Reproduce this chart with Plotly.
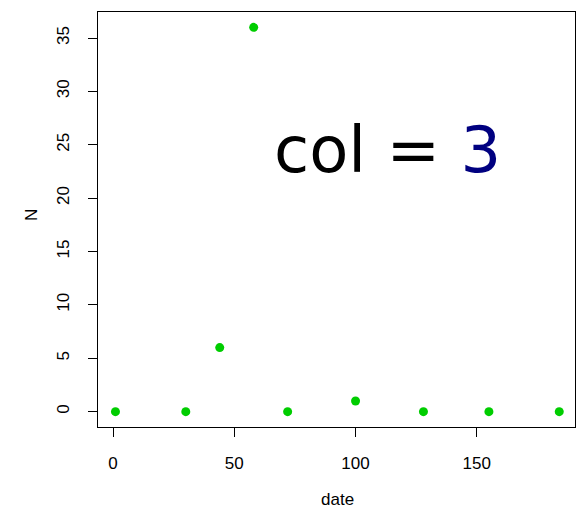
import plotly.graph_objects as go

dates = [1, 30, 44, 58, 72, 100, 128, 155, 184]
counts = [0, 0, 6, 36, 0, 1, 0, 0, 0]
x_ticks = [0, 50, 100, 150]
y_ticks = [0, 5, 10, 15, 20, 25, 30, 35]

L, R, T, B = 98, 8, 12, 82
W, H = 583, 509
pw, ph = W - L - R, H - T - B

fig = go.Figure()
fig.add_trace(go.Scatter(
    x=dates, y=counts, mode="markers",
    marker=dict(color="#00CD00", size=9, line=dict(width=0)),
    showlegend=False,
))

fig.add_annotation(
    text="col = <span style='color:#000080'>3</span>",
    xref="paper", yref="paper", x=(387 - L) / pw, y=(H - B - 150) / ph,
    showarrow=False, font=dict(family="DejaVu Sans", size=64, color="black"),
    xanchor="center", yanchor="middle",
)
# axis titles
fig.add_annotation(
    text="date", xref="paper", yref="paper",
    x=(337 - L) / pw, y=(H - B - 500) / ph,
    showarrow=False, font=dict(family="Liberation Sans", size=17, color="black"),
    xanchor="center", yanchor="middle",
)
fig.add_annotation(
    text="N", xref="paper", yref="paper",
    x=(31 - L) / pw, y=(H - B - 215) / ph, textangle=-90,
    showarrow=False, font=dict(family="Liberation Sans", size=17, color="black"),
    xanchor="center", yanchor="middle",
)

axis_common = dict(
    showline=True, mirror=True, linecolor="black", linewidth=1,
    ticks="outside", ticklen=9, tickcolor="black", tickwidth=1,
    showgrid=False, zeroline=False, automargin=False,
    tickfont=dict(family="Liberation Sans", size=17, color="black"),
)

fig.update_xaxes(
    range=[-6.2, 190.5], tickvals=x_ticks, ticktext=[str(v) for v in x_ticks],
    ticklabelstandoff=12,
    **axis_common,
)
fig.update_yaxes(
    range=[-1.44, 37.44], tickvals=y_ticks, ticktext=[str(v) for v in y_ticks],
    tickangle=-90,
    ticklabelstandoff=12,
    **axis_common,
)

fig.update_layout(
    width=W, height=H,
    margin=dict(l=L, r=R, t=T, b=B),
    paper_bgcolor="white", plot_bgcolor="white",
    font=dict(family="Liberation Sans", color="black"),
)

fig.write_html("out.html", config={"displayModeBar": False},
               post_script="document.body.style.margin='0px';")
